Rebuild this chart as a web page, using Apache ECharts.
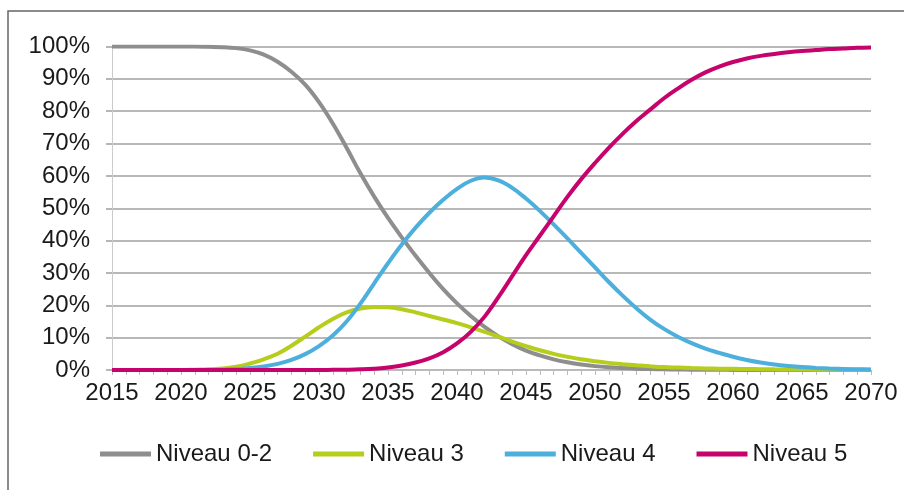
<!DOCTYPE html>
<html>
<head>
<meta charset="utf-8">
<script src="https://cdn.jsdelivr.net/npm/echarts@6/dist/echarts.min.js"></script>
<style>
  html, body { margin: 0; padding: 0; background: #fff; }
  #chart { width: 904px; height: 490px; }
</style>
</head>
<body>
<div id="chart"></div>
<script>
// years 2015 .. 2070
const years = []
for (let y = 2015; y <= 2070; y++) years.push(String(y))

// shares in %, one value per year
const niveau02 = [
  100, 100, 100, 100, 100, 100, 100, 99.9, 99.8, 99.5,
  98.8, 97.5, 95.3, 92.2, 88.2, 82.8, 76.2, 68.7, 60.8, 53.6,
  47, 41, 35.3, 30, 25, 20.6, 16.7, 13.3, 10.4, 8,
  6, 4.5, 3.3, 2.4, 1.7, 1.2, 0.85, 0.6, 0.4, 0.28,
  0.2, 0.14, 0.1, 0.07, 0.05, 0.03, 0.02, 0.01, 0, 0,
  0, 0, 0, 0, 0, 0
]
const niveau3 = [
  0, 0, 0, 0, 0, 0, 0.1, 0.2, 0.5, 1,
  2, 3.3, 5, 7.5, 10.3, 13.2, 15.8, 17.8, 19, 19.5,
  19.4, 18.8, 17.8, 16.7, 15.6, 14.5, 13.2, 11.8, 10.3, 8.8,
  7.4, 6.1, 5, 4.1, 3.3, 2.7, 2.2, 1.8, 1.45, 1.15,
  0.9, 0.75, 0.6, 0.5, 0.4, 0.35, 0.3, 0.25, 0.2, 0.17,
  0.14, 0.11, 0.09, 0.07, 0.06, 0.05
]
const niveau4 = [
  0, 0, 0, 0, 0, 0, 0, 0, 0.1, 0.3,
  0.6, 1.1, 1.9, 3.1, 4.9, 7.4, 10.7, 15, 20.5, 26.8,
  33, 38.8, 44, 48.6, 52.6, 56, 58.5, 59.5, 58.6, 56.3,
  53, 49.2, 45, 40.7, 36.2, 31.7, 27.2, 23, 19.1, 15.6,
  12.7, 10.3, 8.3, 6.6, 5.3, 4.1, 3.1, 2.3, 1.7, 1.25,
  0.9, 0.65, 0.45, 0.3, 0.22, 0.15
]
const niveau5 = [
  0, 0, 0, 0, 0, 0, 0, 0, 0, 0,
  0, 0, 0, 0, 0, 0, 0.05, 0.1, 0.2, 0.4,
  0.8, 1.4, 2.3, 3.6, 5.5, 8.2, 11.8, 16.5, 22.5, 29,
  35.5, 41.5, 47.5, 53.5, 59, 64, 68.7, 73, 77, 80.5,
  84, 87, 89.7, 92, 93.8, 95.2, 96.3, 97.1, 97.7, 98.2,
  98.6, 98.9, 99.2, 99.4, 99.6, 99.7
]

const seriesNames = ['Niveau 0-2', 'Niveau 3', 'Niveau 4', 'Niveau 5']
const seriesColors = ['#8e8e8e', '#b6cd1c', '#4cafdc', '#c6036c']

const labelFont = 'Liberation Sans, Arial, sans-serif'

const myChart = echarts.init(document.getElementById('chart'))

const makeLine = (name, data, color) => ({
  name: name,
  type: 'line',
  data: data,
  smooth: 0.4,
  showSymbol: false,
  symbol: 'none',
  lineStyle: { color: color, width: 4 },
  itemStyle: { color: color }
})

const option = {
  animation: false,
  backgroundColor: '#fff',
  graphic: [
    {
      type: 'rect',
      shape: { x: 8, y: 11, width: 920, height: 500 },
      style: { fill: 'none', stroke: '#666', lineWidth: 1.5 },
      silent: true
    }
  ],
  grid: {
    left: 112,
    right: 33,
    top: 46.5,
    bottom: 120
  },
  legend: {
    data: seriesNames,
    top: 437,
    left: 95,
    icon: 'rect',
    itemWidth: 51,
    itemHeight: 5,
    itemGap: 41,
    textStyle: { fontFamily: labelFont, fontSize: 24, color: '#1a1a1a' }
  },
  xAxis: {
    type: 'category',
    data: years,
    boundaryGap: false,
    axisLine: { show: true, lineStyle: { color: '#bbb', width: 1 } },
    axisTick: {
      show: true,
      interval: 0,
      length: 5,
      lineStyle: { color: '#bbb' }
    },
    axisLabel: {
      interval: 4,
      margin: 11,
      fontFamily: labelFont,
      fontSize: 24,
      color: '#1a1a1a'
    },
    splitLine: { show: false }
  },
  yAxis: {
    type: 'value',
    min: 0,
    max: 100,
    interval: 10,
    axisLine: { show: true, lineStyle: { color: '#ccc', width: 1 } },
    axisTick: { show: true, length: 6, lineStyle: { color: '#a0a0a0', width: 1.5 } },
    axisLabel: {
      formatter: '{value}%',
      margin: 22,
      fontFamily: labelFont,
      fontSize: 24,
      color: '#1a1a1a'
    },
    splitLine: { show: true, lineStyle: { color: '#a0a0a0', width: 1.5 } }
  },
  series: [
    makeLine(seriesNames[0], niveau02, seriesColors[0]),
    makeLine(seriesNames[1], niveau3, seriesColors[1]),
    makeLine(seriesNames[2], niveau4, seriesColors[2]),
    makeLine(seriesNames[3], niveau5, seriesColors[3])
  ]
}

myChart.setOption(option)
</script>
</body>
</html>
